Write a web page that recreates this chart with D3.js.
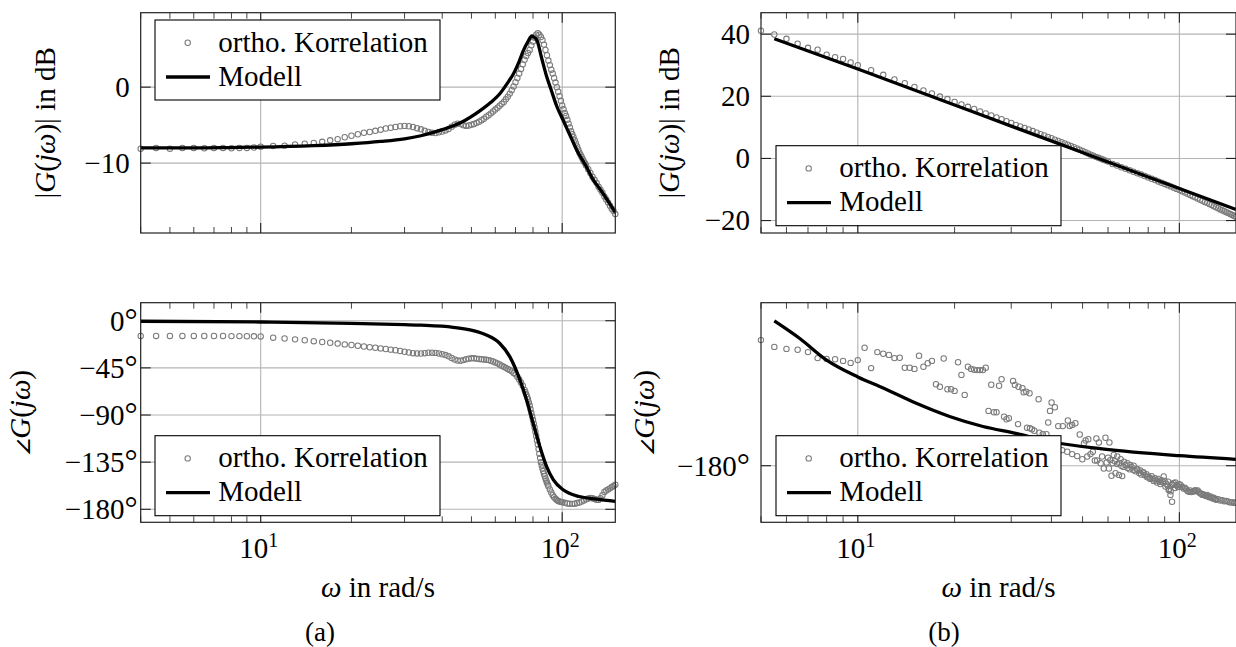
<!DOCTYPE html>
<html>
<head>
<meta charset="utf-8">
<script src="https://cdnjs.cloudflare.com/ajax/libs/d3/7.8.5/d3.min.js"></script>
<style>
    body { margin: 0; background: #fff; }
    svg { display: block; }
</style>
</head>
<body>
<svg id="chart" width="1236" height="647"></svg>
<script>
// Bode plots: measured (ortho. Korrelation) vs. model, two systems (a) and (b)

const legendLabels = ["ortho. Korrelation", "Modell"];
const xMajorTicks = [10, 100];

// (a) magnitude in dB, [omega, value]
const magA_meas = [
    [4,-8.1],[4.5,-8.0],[5,-8.1],[5.5,-8.0],[6,-8.0],[6.5,-8.05],[7,-8.0],[7.5,-8.0],[8,-8.05],[8.5,-8.0],[9,-8.0],[9.5,-7.95],[10,-7.85],
    [11,-7.75],[12,-7.7],[13,-7.55],[14,-7.45],[15,-7.35],[16,-7.2],[17,-7.0],[18,-6.85],[19,-6.6],[20,-6.4],[21,-6.2],[22,-6.0],
    [23,-5.9],[24,-5.75],[25,-5.6],[26,-5.45],[27,-5.35],[28,-5.25],[29,-5.15],[30,-5.1],[31,-5.15],[32,-5.25],[33,-5.4],[34,-5.55],
    [35,-5.75],[36,-5.9],[37,-6.0],[38,-6.05],[39,-5.95],[40,-5.85],[41,-5.7],[42,-5.5],[43,-5.2],[44,-4.95],[45,-4.8],[46,-4.85],
    [47,-5.0],[48,-5.1],[49,-5.05],[50,-4.95],[51,-4.85],[52,-4.7],[53,-4.55],[54,-4.35],[55,-4.15],[56,-3.9],[57,-3.7],[58,-3.45],
    [59,-3.2],[60,-2.95],[61,-2.7],[62,-2.45],[63,-2.2],[64,-1.95],[65,-1.6],[66,-1.25],[67,-0.85],[68,-0.4],[69,0.1],[70,0.65],
    [71,1.2],[72,1.8],[73,2.4],[74,3.0],[75,3.6],[76,4.1],[77,4.5],[78,4.9],[79,5.5],[80,6.0],[81,6.5],[82,6.9],[83,7.1],[84,6.9],
    [85,6.6],[86,6.2],[87,5.6],[88,4.9],[89,4.2],[90,3.5],[91,2.9],[92,2.3],[93,1.8],[94,1.2],[95,0.6],[96,0.0],[97,-0.6],[98,-1.2],
    [99,-1.8],[100,-2.4],[101,-2.9],[102,-3.4],[103,-3.8],[104,-4.3],[105,-4.8],[106,-5.3],[107,-5.8],[108,-6.2],[109,-6.6],[110,-7.0],
    [111,-7.4],[112,-7.8],[113,-8.2],[114,-8.6],[115,-8.9],[116,-9.2],[117,-9.5],[118,-9.8],[119,-10.0],[120,-10.3],[122,-10.8],
    [124,-11.3],[126,-11.8],[128,-12.2],[130,-12.6],[132,-13.1],[134,-13.5],[136,-13.9],[138,-14.4],[140,-14.8],[142,-15.2],
    [144,-15.6],[146,-16.0],[148,-16.3],[150,-16.7]
];
const magA_model = [
    [4,-8.0],[6,-8.0],[8,-7.95],[10,-7.9],[15,-7.7],[20,-7.45],[25,-7.15],[30,-6.8],[34,-6.4],[40,-5.6],[46,-4.7],[53,-3.2],
    [58,-2.0],[62,-0.9],[66,0.6],[69,1.8],[72,3.4],[74.5,4.9],[77,6.0],[79.3,6.75],[80.5,6.6],[82.4,6.2],[85.5,3.8],[88.8,1.4],
    [92,-0.4],[96,-2.55],[100,-4.1],[103.5,-5.4],[108,-7.0],[111.6,-8.25],[120,-10.4],[126.8,-12.2],[135,-13.7],[143,-15.2],[150,-16.5]
];

// (a) phase in degrees
const phaseA_meas = [
    [4,-14.5],[4.5,-14.5],[5,-14.5],[5.5,-14.5],[6,-14.5],[6.5,-14.6],[7,-14.6],[7.5,-14.6],[8,-14.7],[8.5,-14.7],[9,-14.8],[9.5,-14.9],
    [10,-15.0],[11,-16.2],[12,-17.0],[13,-17.8],[14,-18.6],[15,-19.5],[16,-20.3],[17,-21.0],[18,-21.8],[19,-22.6],[20,-23.2],
    [21,-23.9],[22,-24.6],[23,-25.3],[24,-25.8],[25,-26.4],[26,-27.0],[27,-27.6],[28,-28.2],[29,-28.9],[30,-29.6],[31,-30.3],
    [32,-31.0],[33,-31.2],[34,-31.3],[35,-31.0],[36,-30.6],[37,-30.5],[38,-30.7],[39,-31.3],[40,-32.0],[41,-32.8],[42,-34.0],
    [43,-35.5],[44,-37.0],[45,-38.0],[46,-38.2],[47,-37.6],[48,-36.8],[49,-36.2],[50,-35.9],[51,-35.9],[52,-36.2],[53,-36.5],
    [54,-36.8],[55,-37.0],[56,-37.3],[57,-37.6],[58,-38.2],[59,-38.9],[60,-39.8],[61,-40.7],[62,-41.8],[63,-43.0],[64,-44.0],
    [65,-45.0],[66,-46.0],[67,-47.0],[68,-48.3],[69,-49.8],[70,-51.2],[71,-53.5],[72,-56.0],[73,-59.0],[74,-62.0],[75,-66.0],
    [75.5,-68.2],[76,-70.5],[76.5,-72.7],[77,-75.0],[77.5,-78.0],[78,-81.0],[78.5,-84.5],[79,-88.0],[79.5,-91.3],[80,-94.7],
    [80.5,-98.3],[81,-102.0],[81.5,-106.0],[82,-110.0],[82.5,-114.0],[83,-118.0],[83.5,-122.5],[84,-127.0],[84.5,-131.0],
    [85,-135.0],[85.5,-138.0],[86,-141.0],[86.5,-143.5],[87,-146.0],[87.5,-148.3],[88,-150.5],[88.5,-152.5],[89,-154.5],
    [89.5,-156.3],[90,-158.0],[91,-161.0],[92,-164.0],[93,-166.5],[94,-168.5],[95,-170.0],[96,-171.2],[97,-172.0],[98,-172.5],
    [99,-172.9],[100,-173.2],[102,-173.8],[104,-174.4],[106,-174.7],[108,-174.8],[110,-174.6],[112,-174.0],[114,-173.5],
    [116,-172.5],[118,-171.5],[120,-170.5],[122,-169.6],[124,-169.3],[126,-169.5],[128,-170.2],[130,-170.8],[132,-171.0],
    [134,-169.5],[136,-166.5],[138,-163.5],[140,-162.0],[142,-161.0],[144,-160.0],[146,-158.8],[148,-157.7],[150,-156.6]
];
const phaseA_model = [
    [4,-0.5],[10,-1.2],[20,-2.5],[30,-3.8],[34,-4.3],[43.5,-6.3],[50.7,-9.5],[56,-13.6],[62,-21.5],[67,-34.3],[72.4,-56.5],
    [76.2,-75.6],[80.1,-97.8],[84.3,-120],[88.8,-139.2],[93.5,-151.9],[100.7,-161.4],[114,-167.8],[130,-170.3],[150,-172.5]
];

// (b) magnitude in dB
const magB_meas = [
    [5,41.1],[5.5,39.9],[6,38.5],[6.5,36.9],[7,35.6],[7.5,35.0],[8,33.4],[8.5,32.6],[9,32.0],[9.5,30.9],[10,30.0],
    [11,28.4],[12,26.9],[13,25.4],[14,24.2],[15,23.0],[16,21.9],[17,20.9],[18,19.9],[19,19.1],[20,18.2],[21,17.4],[22,16.6],
    [23,15.9],[24,15.1],[25,14.5],[26,13.8],[27,13.2],[28,12.6],[29,12.0],[30,11.4],[31,10.8],[32,10.3],[33,9.8],[34,9.3],
    [35,8.8],[36,8.3],[37,7.8],[38,7.4],[39,6.9],[40,6.5],[41,6.0],[42,5.6],[43,5.2],[44,4.8],[45,4.4],[46,4.0],[47,3.6],
    [48,3.2],[49,2.8],[50,2.4],[51,2.0],[52,1.6],[53,1.2],[54,0.9],[55,0.5],[56,0.2],[57,-0.1],[58,-0.4],[59,-0.7],[60,-1.0],
    [62,-1.8],[64,-2.3],[66,-2.85],[68,-3.35],[70,-3.8],[72,-4.3],[74,-4.75],[76,-5.2],[78,-5.65],[80,-6.1],[82,-6.55],
    [84,-6.95],[86,-7.4],[88,-7.8],[90,-8.2],[92,-8.6],[94,-9.0],[96,-9.4],[98,-9.8],[100,-10.2],[102,-10.6],[104,-11.0],
    [106,-11.4],[108,-11.8],[110,-12.2],[112,-12.5],[114,-12.9],[116,-13.3],[118,-13.6],[120,-14.0],[122,-14.3],[124,-14.7],
    [126,-15.0],[128,-15.4],[130,-15.7],[132,-16.0],[134,-16.4],[136,-16.7],[138,-17.0],[140,-17.3],[142,-17.6],[144,-17.9],
    [146,-18.2],[148,-18.5],[150,-18.8]
];
const magB_model = [
    [5.5,38.5],[10,28.8],[20,17.2],[30,10.4],[50,1.9],[80,-6.0],[100,-9.7],[150,-16.4]
];

// (b) phase in degrees (scattered measurement)
const phaseB_meas = [
    [5,-148.6],[5.5,-150.3],[6,-150.8],[6.5,-151.0],[7,-151.6],[7.5,-153.1],[8,-153.3],[8.5,-153.4],[9,-153.8],[9.5,-154.3],
    [10,-153.6],[10.5,-150.5],[11,-155.6],[11.5,-151.6],[12,-152.0],[12.5,-152.3],[13,-153.1],[13.5,-153.0],
    [14,-155.5],[14.5,-155.5],[15,-155.8],[15.5,-152.5],[16,-155.25],[16.5,-154.4],[17,-153.8],[17.5,-159.65],[18,-160.25],
    [18.5,-153.2],[19,-160.9],[19.5,-160.9],[20,-161.3],[20.5,-154.15],[21,-157.3],[21.5,-162.3],[22,-155.25],[22.5,-155.8],
    [23,-156.0],[23.5,-156.1],[24,-156.1],[24.5,-156.1],[25,-155.5],[25.5,-166.3],[26,-159.75],[26.5,-166.65],[27,-166.65],
    [27.5,-160.0],[28,-158.4],[28.5,-167.75],[29,-168.4],[29.5,-168.15],[30.4,-158.8],[30.8,-159.8],[31.5,-169.6],[31.6,-160.25],
    [32.5,-160.6],[32.8,-161.65],[33.4,-161.5],[33.6,-170.5],[34.2,-161.9],[34.3,-170.65],[34.8,-170.9],[35.4,-171.25],
    [36.5,-163.4],[36.7,-171.75],[37.6,-172.1],[38.6,-172.1],
    [40.05,-164.2],[39.6,-166.3],[41.0,-165.4],[39.1,-169.2],[42.0,-170.1],[43.4,-170.1],[45.0,-168.7],[45.6,-170.1],
    [46.4,-169.8],[47.5,-169.4],[49.0,-172.2],[50.5,-174.4],[51.1,-173.7],[52.1,-173.4],[55.2,-173.2],[56.2,-174.2],
    [58.9,-173.0],[60.6,-174.2],
    [39.3,-173.6],[41.2,-175.2],[43.2,-176.1],[44.8,-176.5],[46.4,-177.1],[48.1,-177.6],[49.9,-178.4],[51.7,-177.7],
    [52.9,-177.1],[53.8,-176.5],[54.6,-178.7],[55.5,-178.7],[56.9,-179.4],[57.5,-177.7],[58.2,-180.7],[59.4,-179.2],
    [60.4,-180.7],[61.5,-182.5],[62.5,-177.3],[63.3,-181.9],[64.9,-182.3],[66.4,-182.6],[64.1,-177.7],[65.7,-178.4],
    [67.3,-179.0],[68.9,-179.4],[70.4,-179.8],[72.1,-180.0],[73.9,-180.8],[75.6,-181.2],[77.4,-181.7],[79.4,-182.9],
    [81.2,-183.3],[83.2,-183.8],[85.2,-184.2],[87.2,-184.6],[89.4,-182.7],[90.5,-185.2],[92.6,-186.1],[93.8,-187.3],
    [94.9,-189.0],[92.2,-184.0],[95.4,-184.8],[97.2,-184.2],[99.6,-185.2],
    [60,-178.0],[61,-178.6],[62,-179.4],[63,-178.9],[64,-179.6],[65,-179.3],[66,-180.0],[67,-180.3],[68,-179.8],[69,-180.6],
    [70,-180.9],[71,-180.4],[72,-181.1],[73,-181.4],[74,-181.0],[75,-181.8],[76,-182.2],[77,-181.6],[78,-182.4],[79,-182.1],
    [80,-182.7],[81,-183.0],[82,-182.6],[83,-183.4],[84,-183.1],[85,-183.7],[86,-183.3],[87,-184.0],[88,-183.6],[89,-184.2],
    [90,-183.8],[91,-184.5],[92,-185.0],[93,-185.8],[94,-186.4],[95,-184.6],[96,-184.3],[97,-185.6],[98,-184.9],[99,-185.3],
    [100,-184.6],[101,-184.9],[102,-185.3],[103,-185.7],[104,-185.5],[105,-185.9],[106,-186.3],[107,-186.5],[108,-186.2],
    [109,-186.6],[110,-186.5],[111,-186.3],[112,-186.1],[113,-186.4],[114,-186.2],[115,-186.6],[116,-186.9],[117,-187.0],
    [118,-187.3],[119,-187.2],[120,-187.4],[121,-187.6],[122,-187.3],[123,-187.7],[124,-187.9],[125,-187.7],[126,-188.0],
    [127,-188.2],[128,-188.0],[129,-188.3],[130,-188.5],[132,-188.4],[134,-188.7],[136,-188.6],[138,-188.9],[140,-188.8],
    [142,-189.0],[144,-189.2],[146,-189.1],[148,-189.3],[150,-189.2]
];
const phaseB_model = [
    [5.5,-143.8],[6.6,-148.2],[8,-153.6],[10,-157.8],[12,-160.6],[15.2,-164.4],[19.3,-167.7],[24.5,-170.2],[31,-171.9],
    [41,-174.2],[57.5,-175.8],[100,-177.5],[150,-178.4]
];

const magTicksA = [-10, 0];
const phaseTicksA = [-180, -135, -90, -45, 0];
const magTicksB = [-20, 0, 20, 40];
const phaseTicksB = [-180];

const SERIF = "Liberation Serif";
const svg = d3.select("#chart");
const FONT = 29;
const GREY = "#7a7a7a";

const magLabel = [["|", false], ["G", true], ["(", false], ["j", true], ["\u03C9", true], [")|", false], [" in dB", false]];
const phaseLabel = [["\u2220", false, "FreeSerif"], ["G", true], ["(", false], ["j", true], ["\u03C9", true], [")", false]];

// every text node gets the serif face directly
function addText(parent, size) {
    return parent.append("text")
        .attr("font-family", SERIF)
        .attr("font-size", size);
}

function richText(sel, parts) {
    parts.forEach(p => {
        sel.append("tspan")
            .attr("font-family", p[2] || SERIF)
            .attr("font-style", p[1] ? "italic" : "normal")
            .text(p[0]);
    });
}

const fmtMag = d => (d < 0 ? "\u2212" + Math.abs(d) : String(d));

function drawPanel(cfg) {
    const x = d3.scaleLog().domain(cfg.xDomain).range([cfg.left, cfg.right]);
    const y = d3.scaleLinear().domain(cfg.yDomain).range([cfg.bottom, cfg.top]);
    const g = svg.append("g");

    g.append("clipPath").attr("id", "clip-" + cfg.id)
        .append("rect")
        .attr("x", cfg.left).attr("y", cfg.top)
        .attr("width", cfg.right - cfg.left).attr("height", cfg.bottom - cfg.top);

    // grid
    g.selectAll(".gx").data(xMajorTicks).enter().append("line")
        .attr("x1", d => x(d)).attr("x2", d => x(d))
        .attr("y1", cfg.top).attr("y2", cfg.bottom)
        .attr("stroke", "#b4b4b4").attr("stroke-width", 1.1);
    g.selectAll(".gy").data(cfg.yTicks).enter().append("line")
        .attr("x1", cfg.left).attr("x2", cfg.right)
        .attr("y1", d => y(d)).attr("y2", d => y(d))
        .attr("stroke", "#b4b4b4").attr("stroke-width", 1.1);

    // minor ticks along top and bottom
    const minor = x.ticks().filter(d => xMajorTicks.indexOf(d) < 0);
    [cfg.top, cfg.bottom].forEach((edge, i) => {
        const dir = i === 0 ? 1 : -1;
        g.selectAll(null).data(minor).enter().append("line")
            .attr("x1", d => x(d)).attr("x2", d => x(d))
            .attr("y1", edge).attr("y2", edge + dir * 6)
            .attr("stroke", "#444").attr("stroke-width", 1);
        g.selectAll(null).data(xMajorTicks).enter().append("line")
            .attr("x1", d => x(d)).attr("x2", d => x(d))
            .attr("y1", edge).attr("y2", edge + dir * 10)
            .attr("stroke", "#222").attr("stroke-width", 1.1);
    });
    // major y ticks on both sides
    [cfg.left, cfg.right].forEach((edge, i) => {
        const dir = i === 0 ? 1 : -1;
        g.selectAll(null).data(cfg.yTicks).enter().append("line")
            .attr("x1", edge).attr("x2", edge + dir * 10)
            .attr("y1", d => y(d)).attr("y2", d => y(d))
            .attr("stroke", "#222").attr("stroke-width", 1.1);
    });

    // measured points
    g.selectAll(".pt").data(cfg.meas).enter().append("circle")
        .attr("cx", d => x(d[0])).attr("cy", d => y(d[1]))
        .attr("r", 2.7)
        .attr("fill", "none").attr("stroke", GREY).attr("stroke-width", 1.05);

    // model line
    const line = d3.line().x(d => x(d[0])).y(d => y(d[1])).curve(d3.curveMonotoneX);
    g.append("path").datum(cfg.model)
        .attr("clip-path", `url(#clip-${cfg.id})`)
        .attr("d", line)
        .attr("fill", "none").attr("stroke", "#000").attr("stroke-width", 3.3);

    // frame
    g.append("rect")
        .attr("x", cfg.left).attr("y", cfg.top)
        .attr("width", cfg.right - cfg.left).attr("height", cfg.bottom - cfg.top)
        .attr("fill", "none").attr("stroke", "#222").attr("stroke-width", 1.2);

    // y tick labels (degree ring a bit larger, like the TeX \circ)
    cfg.yTicks.forEach(t => {
        const tl = addText(g, FONT)
            .attr("x", cfg.left - cfg.labelGap).attr("y", y(t) + 9.8)
            .attr("text-anchor", "end");
        tl.append("tspan").attr("font-family", SERIF).text(fmtMag(t));
        if (cfg.degrees) {
            tl.append("tspan").attr("font-family", SERIF)
                .attr("font-size", 33).text("\u00B0");
        }
    });

    // y axis label
    const yl = addText(g, FONT)
        .attr("transform", `translate(${cfg.yLabelX},${(cfg.top + cfg.bottom) / 2}) rotate(-90)`)
        .attr("text-anchor", "middle");
    richText(yl, cfg.yLabel);

    // x tick labels and x label on the lower panels
    if (cfg.xLabels) {
        xMajorTicks.forEach(t => {
            const tl = addText(g, FONT)
                .attr("x", x(t) - 2).attr("y", cfg.bottom + 36)
                .attr("text-anchor", "middle");
            tl.append("tspan").attr("font-family", SERIF).text("10");
            tl.append("tspan").attr("dy", -11).attr("font-family", SERIF)
                .attr("font-size", 20)
                .text(String(Math.log10(t)));
        });
        const xl = addText(g, FONT)
            .attr("x", (cfg.left + cfg.right) / 2).attr("y", cfg.bottom + 75)
            .attr("text-anchor", "middle");
        richText(xl, [["\u03C9", true], [" in rad/s", false]]);
    }

    // legend
    const lx = cfg.legend[0], ly = cfg.legend[1];
    const lg = g.append("g");
    lg.append("rect")
        .attr("x", lx).attr("y", ly).attr("width", 285).attr("height", 80)
        .attr("fill", "#fff").attr("stroke", "#000").attr("stroke-width", 1.1);
    lg.append("circle")
        .attr("cx", lx + 32.7).attr("cy", ly + 22.7).attr("r", 2.7)
        .attr("fill", "none").attr("stroke", GREY).attr("stroke-width", 1.05);
    lg.append("line")
        .attr("x1", lx + 11).attr("x2", lx + 55)
        .attr("y1", ly + 57).attr("y2", ly + 57)
        .attr("stroke", "#000").attr("stroke-width", 3.3);
    legendLabels.forEach((lab, i) => {
        addText(lg, FONT)
            .attr("x", lx + 63.3).attr("y", ly + 31.5 + i * 34)
            .text(lab);
    });
}

drawPanel({
    id: "magA", left: 140.7, right: 615.3, top: 12.7, bottom: 233,
    xDomain: [4, 150], yDomain: [-19.2, 9.8], yTicks: magTicksA, degrees: false, labelGap: 11,
    meas: magA_meas, model: magA_model, legend: [155, 20],
    yLabel: magLabel, yLabelX: 55, xLabels: false
});
drawPanel({
    id: "phaseA", left: 140.7, right: 615.3, top: 302.7, bottom: 522.3,
    xDomain: [4, 150], yDomain: [-192.4, 17.2], yTicks: phaseTicksA, degrees: true, labelGap: 3,
    meas: phaseA_meas, model: phaseA_model, legend: [155, 435.7],
    yLabel: phaseLabel, yLabelX: 30, xLabels: true
});
drawPanel({
    id: "magB", left: 761, right: 1236, top: 12.7, bottom: 233,
    xDomain: [5, 150], yDomain: [-24.0, 46.9], yTicks: magTicksB, degrees: false, labelGap: 11,
    meas: magB_meas, model: magB_model, legend: [776, 145.7],
    yLabel: magLabel, yLabelX: 679, xLabels: false
});
drawPanel({
    id: "phaseB", left: 761, right: 1236, top: 302.7, bottom: 522.3,
    xDomain: [5, 150], yDomain: [-194.15, -139.25], yTicks: phaseTicksB, degrees: true, labelGap: 11,
    meas: phaseB_meas, model: phaseB_model, legend: [776, 435.7],
    yLabel: phaseLabel, yLabelX: 654, xLabels: true
});

// sub-captions
[["(a)", 320], ["(b)", 944]].forEach(c => {
    addText(svg, 27)
        .attr("x", c[1]).attr("y", 641)
        .attr("text-anchor", "middle")
        .text(c[0]);
});
</script>
</body>
</html>
